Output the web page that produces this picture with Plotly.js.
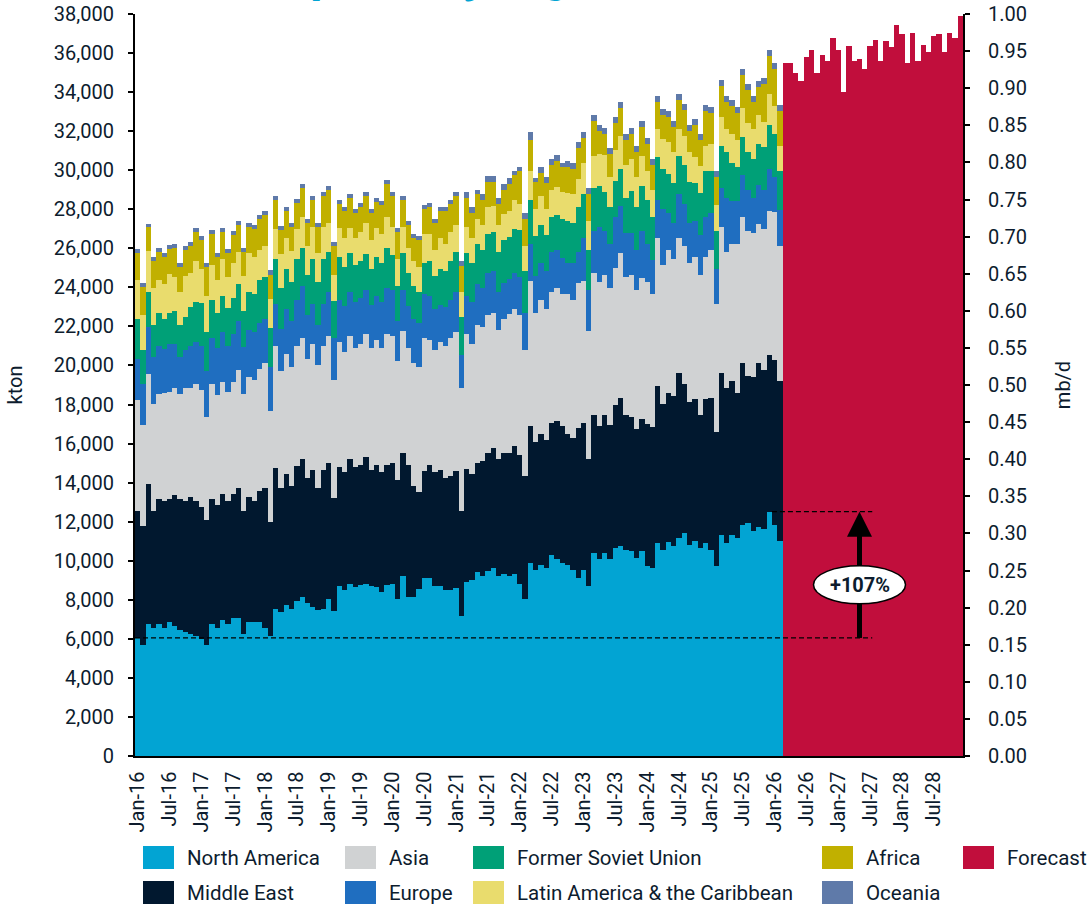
<!DOCTYPE html>
<html>
<head>
<meta charset="utf-8">
<script src="https://cdn.plot.ly/plotly-3.0.1.min.js"></script>
<style>html,body{margin:0;padding:0;background:#fff;}#chart{width:1090px;height:907px;}</style>
</head>
<body>
<div id="chart"></div>
<script>
// ---------- categories ----------
const MONTH_NAMES = ['Jan','Feb','Mar','Apr','May','Jun','Jul','Aug','Sep','Oct','Nov','Dec'];
const YEARS = [16,17,18,19,20,21,22,23,24,25,26,27,28];
const CATS = [];
YEARS.forEach(y => MONTH_NAMES.forEach(m => CATS.push(m + '-' + y)));
const TICKS = CATS.filter(c => c.startsWith('Jan') || c.startsWith('Jul'));
const HIST_N = 122;                       // Jan-16 .. Feb-26
const HIST_CATS = CATS.slice(0, HIST_N);
const FC_CATS = CATS.slice(HIST_N);       // Mar-26 .. Dec-28

// ---------- historical data, kton ----------
const northAmerica = [
6045,5700,6760,6555,6760,6555,6860,6660,6450,6350,6250,6145,
6010,5700,6760,6555,6965,6760,7070,7070,6250,6860,6860,6860,
6555,6145,7510,7375,7735,7530,7940,8160,7850,7650,7480,7545,
8040,7425,8705,8500,8810,8670,8755,8810,8705,8670,8400,8755,
8810,8040,9220,8160,8160,8550,9115,9115,8705,8705,8500,8500,
8605,7170,8910,9015,9425,9220,9475,9630,9220,9320,9220,9320,
8810,8040,9885,9525,9780,9630,10295,10090,9885,9780,9525,9115,
9525,8705,10395,10090,10395,10090,10650,10770,10570,10475,10160,10475,
9745,9650,10925,10570,10985,10765,11160,11435,10825,11020,10670,10925,
10570,9745,11335,10925,11335,11140,11845,11945,11535,11750,11650,12515,
11845,11020];
const middleEast = [
6520,6080,7170,6010,6400,6505,6300,6710,6710,6710,7000,6915,
6760,6390,6400,6300,6455,6300,6350,6640,6315,6390,6220,6695,
7155,5840,7220,6335,6705,6300,6910,7050,6385,7000,6245,7100,
6965,5785,6095,6045,6400,6130,6145,6505,5940,6230,6145,6145,
6195,6095,6300,6740,5665,4965,5480,5785,5840,5940,5735,5840,
5990,5375,5790,5430,5580,5890,6045,6145,5990,6195,6300,6555,
6605,6300,7015,6555,6710,6555,6760,7065,7015,6710,6760,7685,
7530,6505,7065,6810,7065,6860,7325,7590,6870,6865,6610,6770,
7280,7220,8005,7475,7630,7655,8435,7595,7280,7280,6770,7335,
7790,6830,8300,7905,7890,7475,8260,7495,7850,8360,8140,8005,
8455,8200];
const asia = [
5665,5170,5630,5465,5380,5510,5500,5480,5380,5790,5600,5990,
5970,5290,5890,5635,5750,5600,5730,6060,5975,6140,6170,6245,
6400,5700,6265,6025,6150,6110,6145,6215,6095,6450,6300,6350,
6505,6045,6400,6145,6300,6095,6195,6300,6245,6400,6350,6710,
6505,6095,6245,5990,6300,6400,6810,6400,6250,6555,6760,7065,
7120,6315,6915,6655,7065,6860,7065,6915,6605,6860,7120,7015,
7170,6455,7425,6605,6860,6710,6710,6810,6760,7170,7065,7425,
7270,6555,7270,7400,7170,7015,7025,7380,7080,7280,7105,7220,
7260,6790,7590,7100,7280,7025,6925,7080,7140,7240,7200,7320,
7555,6555,7435,6985,6985,7595,7495,7455,7375,7140,7220,7415,
7535,6890];
const europe = [
2085,2100,2390,2390,2470,2270,2460,2270,1910,1940,2160,2150,
2260,2355,2375,2420,2545,2350,2460,2510,2390,2430,2465,2360,
2270,2220,2155,2115,2285,2355,2355,2645,2255,2050,2050,2150,
2255,2150,2150,2370,2255,2355,2355,2255,2205,2255,2355,2355,
2355,2050,2100,2150,2255,2255,2255,2255,2100,1895,2000,1945,
2050,1675,1945,2150,2100,2000,2150,2150,1945,1845,1795,1845,
1945,1895,1895,1895,1895,1945,2050,1945,1845,1590,1895,1585,
2200,2100,2150,2790,2255,2255,2605,2435,2275,2180,2040,2415,
1940,1725,1945,2885,1905,1845,2255,2140,2060,1865,2020,2020,
1885,1805,2000,2765,2215,2200,2140,2080,1825,2000,1960,2140,
1825,1865];
const formerSovietUnion = [
2065,1740,1810,1650,1660,1560,1580,1690,1620,1710,2000,2050,
2180,1980,1925,1760,1845,1915,1830,1890,1860,1940,1945,2200,
2170,2015,2300,2120,2050,1965,2085,1945,2050,2305,2200,2305,
2050,1895,2200,1980,2000,1895,1895,1845,1845,2000,2000,2050,
1790,1790,1895,1690,1690,1585,1585,1790,1690,1845,1845,2000,
2050,1945,2200,2000,2050,1945,2000,2000,2050,2200,2150,2255,
2405,2150,2255,2050,1945,1845,1795,1790,2000,2150,2050,2305,
2255,2050,2200,2100,1995,1895,1845,1885,1765,2160,2200,2295,
2240,2200,2195,2040,2020,2080,1960,2000,2100,1960,2160,2355,
2160,1960,2160,2355,1925,1765,1980,1960,2000,2080,2200,2235,
2195,1980];
const latinAmerica = [
2000,1795,2100,1915,1710,1770,1970,1740,1710,2080,1740,2120,
1780,1845,1795,1710,1890,1625,1790,1660,1790,2020,1910,1555,
1570,1500,1560,1720,1605,1620,1565,1585,1485,1640,1485,1640,
1485,1330,1485,1485,1280,1385,1485,1590,1485,1485,1485,1585,
1435,1385,1330,1280,1280,1280,1485,1380,1330,1590,1380,1485,
1380,1280,1330,1280,1280,1280,1385,1330,1385,1330,1330,1485,
1330,1280,1485,1380,1485,1330,1380,1435,1385,1435,1485,1435,
1585,1485,1640,1640,1895,1535,1590,1705,1690,1610,1530,1550,
1490,1395,1435,1530,1650,1550,1355,1510,1510,1315,1375,1275,
1375,1335,1510,1175,1510,1355,1450,1470,1530,1510,1275,1610,
1430,1275];
const africa = [
1360,1415,1210,1385,1450,1400,1295,1450,1280,1335,1370,1465,
1465,1500,1590,1190,1400,1190,1450,1365,1230,1330,1440,1585,
1585,1215,1465,1250,1365,1230,1300,1485,1180,1385,1330,1585,
1690,1485,1230,1400,1535,1280,1280,1380,1385,1330,1485,1690,
1585,1385,1385,1175,1180,1380,1280,1385,1385,1380,1690,1435,
1485,1340,1485,1280,1280,1280,1280,1230,1075,1230,1380,1280,
1690,1380,1590,1385,1180,1330,1280,1330,1280,1330,1280,1585,
1280,1380,1795,1180,1075,1180,1380,1430,1300,1300,1300,1495,
1395,1300,1415,1240,1260,1300,1515,1340,1105,1650,1360,1810,
1610,1435,1575,1395,1435,1415,1710,1710,1395,1435,1985,1945,
1905,1810];
const oceania = [
225,200,200,200,185,210,220,220,205,205,205,205,
205,205,205,210,205,205,210,205,205,205,200,205,
205,250,205,200,205,205,210,205,205,205,205,205,
205,205,205,205,205,205,205,205,205,205,205,205,
205,205,205,205,205,205,205,205,205,205,205,205,
205,250,300,305,205,305,305,305,305,305,300,205,
205,310,410,205,305,300,305,310,205,305,305,305,
305,310,305,305,305,305,305,300,290,290,290,290,
290,290,290,290,290,290,290,290,290,290,290,290,
290,290,290,290,290,290,290,290,290,290,290,290,
290,290];

// ---------- forecast, mb/d (right axis) ----------
const forecastMbd = [
0.934,0.934,0.920,0.910,0.942,0.951,0.920,0.945,0.937,0.968,
0.951,0.895,0.957,0.937,0.939,0.926,0.957,0.965,0.937,0.963,
0.955,0.985,0.973,0.934,0.975,0.937,0.958,0.949,0.970,0.973,
0.949,0.975,0.968,0.997];

// ---------- styling ----------
const TXT = '#0d1c2e';
const FONT = 'Roboto, "Open Sans", sans-serif';
const SERIES = [
  {name:'North America', data:northAmerica, color:'#02a4d3'},
  {name:'Middle East', data:middleEast, color:'#01182f'},
  {name:'Asia', data:asia, color:'#d0d2d3'},
  {name:'Europe', data:europe, color:'#1f6ec0'},
  {name:'Former Soviet Union', data:formerSovietUnion, color:'#00a077'},
  {name:'Latin America & the Caribbean', data:latinAmerica, color:'#e9dc6d'},
  {name:'Africa', data:africa, color:'#c1b000'},
  {name:'Oceania', data:oceania, color:'#5f7aa9'}
];
const FC_COLOR = '#c10e3c';

const traces = SERIES.map(s => ({
  type:'bar', name:s.name, x:HIST_CATS, y:s.data,
  marker:{color:s.color, line:{width:0}}, xaxis:'x', yaxis:'y', hoverinfo:'x+y+name'
}));
traces.push({
  type:'bar', name:'Forecast', x:FC_CATS, y:forecastMbd,
  marker:{color:FC_COLOR, line:{width:0}}, xaxis:'x', yaxis:'y2'
});

// ---------- geometry ----------
const L = 135, R = 127, T = 14, B = 151;
const W = 1090 - L - R, H = 907 - T - B;
const YMAX = 38000;
const ppu = H / YMAX;
const px2x = p => (p - L) / W;
const py2y = p => (T + H - p) / H;

// ---------- growth annotation ----------
const na0 = northAmerica[0];
const naMax = Math.max(...northAmerica);
const iMax = northAmerica.indexOf(naMax);
const growth = Math.round((naMax / na0 - 1) * 100);
const xArrow = 136;
const xLineEnd = 138.4;
const mid = (na0 + naMax) / 2;
const ellOff = -10, ellHalfH = 19, ellHalfW = 46;

const shapes = [
  {type:'line', xref:'x', yref:'y', x0:-0.5, x1:xLineEnd, y0:na0, y1:na0,
   line:{color:'#000', width:1.2, dash:'5px,3px'}, layer:'above'},
  {type:'line', xref:'x', yref:'y', x0:iMax + 0.5, x1:xLineEnd, y0:naMax, y1:naMax,
   line:{color:'#000', width:1.2, dash:'5px,3px'}, layer:'above'},
  // arrow shaft (pixel-sized from the base value up to just under the head)
  {type:'line', xref:'x', yref:'y', ysizemode:'pixel', yanchor:na0,
   x0:xArrow, x1:xArrow, y0:0, y1:(naMax - na0) * ppu - 14,
   line:{color:'#000', width:5}, layer:'above'},
  {type:'circle', xref:'x', yref:'y', xsizemode:'pixel', ysizemode:'pixel',
   xanchor:xArrow, yanchor:mid, x0:-ellHalfW, x1:ellHalfW,
   y0:ellOff - ellHalfH, y1:ellOff + ellHalfH,
   fillcolor:'#ffffff', line:{color:'#000', width:1.5}, layer:'above'}
];

const annotations = [
  // clipped title at the very top
  {xref:'paper', yref:'paper', x:px2x(258), y:py2y(5), xanchor:'left', yanchor:'bottom',
   text:'<b>exports by region</b>', showarrow:false,
   font:{family:FONT, size:48, color:'#02a4d3'}},
  // arrow head
  {xref:'x', yref:'y', x:xArrow, y:naMax, ax:0, ay:24, text:' ', showarrow:true,
   font:{size:1}, borderpad:0,
   arrowhead:2, arrowsize:1, arrowwidth:5, arrowcolor:'#000', standoff:0, startstandoff:0},
  // label
  {xref:'x', yref:'y', x:xArrow, y:mid, yshift:ellOff, text:'<b>+' + growth + '%</b>',
   showarrow:false, font:{family:FONT, size:20, color:TXT}}
];

// ---------- custom legend ----------
const legendItems = [
  [SERIES[0], 143, 846], [SERIES[2], 345, 846], [SERIES[4], 473, 846],
  [SERIES[6], 822, 846], [{name:'Forecast', color:FC_COLOR}, 963, 846],
  [SERIES[1], 143, 881], [SERIES[3], 345, 881], [SERIES[5], 473, 881],
  [SERIES[7], 822, 881]
];
legendItems.forEach(([s, lx, ly]) => {
  shapes.push({type:'rect', xref:'paper', yref:'paper',
    x0:px2x(lx), x1:px2x(lx + 31), y0:py2y(ly + 23), y1:py2y(ly),
    fillcolor:s.color, line:{width:0}, layer:'above'});
  annotations.push({xref:'paper', yref:'paper', x:px2x(lx + 42), y:py2y(ly + 12),
    xanchor:'left', yanchor:'middle', text:s.name, showarrow:false,
    font:{family:FONT, size:20.5, color:TXT}});
});

const axisCommon = {
  showgrid:false, zeroline:false, showline:true, linecolor:'#000', linewidth:2,
  ticks:'outside', ticklen:5, tickwidth:2, tickcolor:'#000',
  tickfont:{family:FONT, size:20, color:TXT}, fixedrange:true
};

const layout = {
  width:1090, height:907,
  margin:{l:L, r:R, t:T, b:B, pad:0},
  paper_bgcolor:'#ffffff', plot_bgcolor:'#ffffff',
  barmode:'stack', bargap:0,
  showlegend:false,
  font:{family:FONT, size:20, color:TXT},
  xaxis:{type:'category', categoryorder:'array', categoryarray:CATS,
    range:[-0.5, CATS.length - 0.5],
    tickmode:'array', tickvals:TICKS, ticktext:TICKS, tickangle:-90,
    showline:true, linecolor:'#000', linewidth:1.5, ticks:'', showgrid:false, zeroline:false,
    tickfont:{family:FONT, size:20, color:TXT}, ticklabelstandoff:6, fixedrange:true},
  yaxis:Object.assign({}, axisCommon, {
    range:[0, YMAX], dtick:2000, tickformat:',d', ticklabelstandoff:10,
    title:{text:'kton', standoff:26, font:{family:FONT, size:20, color:TXT}}}),
  yaxis2:Object.assign({}, axisCommon, {
    overlaying:'y', side:'right', range:[0, 1], dtick:0.05, tickformat:'.2f',
    ticklabelstandoff:14,
    title:{text:'mb/d', standoff:30, font:{family:FONT, size:20, color:TXT}}}),
  shapes:shapes,
  annotations:annotations
};

Plotly.newPlot('chart', traces, layout, {displayModeBar:false, staticPlot:true});
</script>
</body>
</html>
